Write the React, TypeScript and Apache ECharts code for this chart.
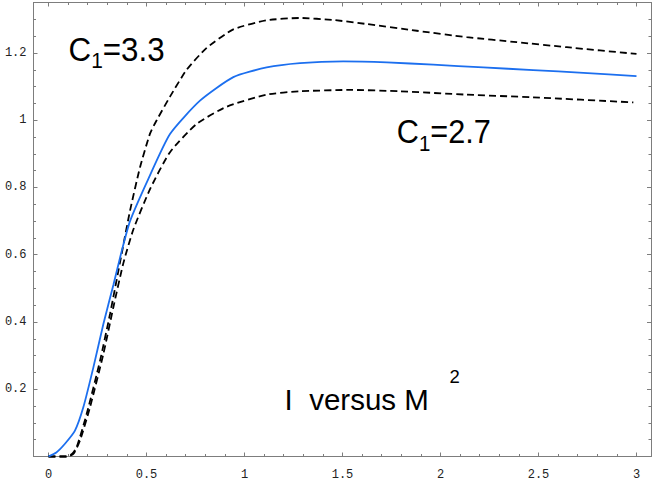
import React, { useEffect, useRef } from "react";
import * as echarts from "echarts";

// ---- data ----
const xTickLabels = ["0", "0.5", "1", "1.5", "2", "2.5", "3"];
const yTickLabels = ["0.2", "0.4", "0.6", "0.8", "1", "1.2"];

// I versus M^2 (solid blue)
const midX = [0, 0.04, 0.084, 0.135, 0.178, 0.229, 0.28, 0.331, 0.373, 0.416, 0.509, 0.62, 0.773, 0.943, 1.113, 1.283, 1.504, 1.726, 1.963, 2.218, 2.473, 2.729, 3.0];
const midY = [0, 0.012, 0.038, 0.077, 0.147, 0.265, 0.394, 0.51, 0.61, 0.7, 0.825, 0.959, 1.058, 1.128, 1.157, 1.17, 1.175, 1.172, 1.165, 1.157, 1.149, 1.141, 1.131];

// C1 = 3.3 (upper dashed)
const upX = [0, 0.09, 0.12, 0.144, 0.195, 0.263, 0.314, 0.373, 0.416, 0.467, 0.518, 0.552, 0.62, 0.705, 0.807, 0.943, 1.113, 1.283, 1.453, 1.623, 1.879, 2.134, 2.389, 2.644, 3.0];
const upY = [0, 0, 0.008, 0.028, 0.127, 0.285, 0.424, 0.602, 0.731, 0.86, 0.96, 1.0, 1.07, 1.15, 1.215, 1.27, 1.297, 1.304, 1.298, 1.286, 1.266, 1.247, 1.232, 1.217, 1.197];

// C1 = 2.7 (lower dashed)
const lowX = [0, 0.1, 0.13, 0.161, 0.212, 0.28, 0.331, 0.382, 0.433, 0.518, 0.62, 0.756, 0.909, 1.113, 1.283, 1.538, 1.793, 2.134, 2.473, 2.984];
const lowY = [0, 0, 0.01, 0.048, 0.147, 0.305, 0.444, 0.575, 0.675, 0.795, 0.905, 0.989, 1.04, 1.076, 1.086, 1.09, 1.086, 1.076, 1.068, 1.053];

const xMin = -0.0765;
const xMax = 3.074;
const yMin = 0;
const yMax = 1.35;

const pairs = (xs: number[], ys: number[]) => xs.map((x, i) => [x, ys[i]]);
const pick = (list: string[]) => (v: number) => {
  const s = list.find((l) => Math.abs(parseFloat(l) - v) < 1e-6);
  return s ?? "";
};

const FRAME = "#7d7d7d";
const TICK = "#7d7d7d";
const SANS = "Liberation Sans, Arial, Helvetica, sans-serif";

const axisBase = (extra: any) => ({
  type: "value",
  axisLine: { show: true, onZero: false, lineStyle: { color: FRAME, width: 1 } },
  splitLine: { show: false },
  axisTick: { show: true, inside: true, length: 4, lineStyle: { color: TICK, width: 1 } },
  ...extra,
});

export default function App() {
  const ref = useRef<HTMLDivElement>(null);
  useEffect(() => {
    if (!ref.current) return;
    const chart = echarts.init(ref.current, null, { renderer: "svg" });
    const labelFont = {
      fontFamily: "Liberation Mono, DejaVu Sans Mono, monospace",
      fontSize: 12,
      color: "#222",
    };
    const subRich = {
      c: { fontFamily: SANS, fontSize: 33, lineHeight: 36, verticalAlign: "top", fill: "#000" },
      s: { fontFamily: SANS, fontSize: 22, lineHeight: 55.6, fill: "#000" },
    };
    const lineSeries = (name: string, xs: number[], ys: number[], style: any, z: number) => ({
      name,
      type: "line",
      data: pairs(xs, ys),
      showSymbol: false,
      smooth: 0.2,
      clip: false,
      lineStyle: style,
      z,
    });
    const xMinor = { show: true, splitNumber: 5, length: 2.5, lineStyle: { color: TICK, width: 1 } };
    const yMinor = { show: true, splitNumber: 4, length: 2.5, lineStyle: { color: TICK, width: 1 } };
    const option: any = {
      animation: false,
      backgroundColor: "#fff",
      grid: { left: 33.5, right: 3, top: 2.5, bottom: 26.5, containLabel: false },
      xAxis: [
        axisBase({
          position: "bottom",
          min: xMin,
          max: xMax,
          splitNumber: 6,
          minorTick: xMinor,
          axisLabel: { ...labelFont, margin: 12, formatter: pick(xTickLabels), showMinLabel: true, showMaxLabel: true },
        }),
        axisBase({
          position: "top",
          min: xMin,
          max: xMax,
          splitNumber: 6,
          minorTick: xMinor,
          axisLabel: { show: false },
        }),
      ],
      yAxis: [
        axisBase({
          position: "left",
          min: yMin,
          max: yMax,
          interval: 0.2,
          minorTick: yMinor,
          axisLabel: { ...labelFont, margin: 7, formatter: pick(yTickLabels) },
        }),
        axisBase({
          position: "right",
          min: yMin,
          max: yMax,
          interval: 0.2,
          minorTick: yMinor,
          axisLabel: { show: false },
        }),
      ],
      series: [
        lineSeries("I versus M^2", midX, midY, { color: "#1c6fef", width: 1.8 }, 3),
        lineSeries("C1=3.3", upX, upY, { color: "#000", width: 1.8, type: [7, 4] }, 2),
        lineSeries("C1=2.7", lowX, lowY, { color: "#000", width: 1.8, type: [7, 4] }, 2),
      ],
      graphic: [
        {
          type: "text",
          x: 68.5,
          y: 33.3,
          scaleX: 0.95,
          style: {
            text: "{c|C}{s|1}{c|=3.3}",
            fill: "#000",
            align: "left",
            verticalAlign: "top",
            textAlign: "left",
            textVerticalAlign: "top",
            rich: subRich,
          },
          z: 10,
        },
        {
          type: "text",
          x: 396.8,
          y: 115.6,
          scaleX: 0.93,
          style: {
            text: "{c|C}{s|1}{c|=2.7}",
            fill: "#000",
            align: "left",
            verticalAlign: "top",
            textAlign: "left",
            textVerticalAlign: "top",
            rich: subRich,
          },
          z: 10,
        },
        {
          type: "text",
          x: 284.6,
          y: 339.3,
          style: {
            text: "{m|I  versus M}{p|    2}",
            fill: "#000",
            align: "left",
            verticalAlign: "top",
            textAlign: "left",
            textVerticalAlign: "top",
            rich: {
              m: { fontFamily: SANS, fontSize: 29.5, lineHeight: 36, verticalAlign: "bottom", fill: "#000" },
              p: { fontFamily: SANS, fontSize: 18.5, lineHeight: 75.2, fill: "#000" },
            },
          },
          z: 10,
        },
      ],
    };
    chart.setOption(option);
    return () => chart.dispose();
  }, []);
  return (
    <div
      ref={ref}
      style={{ position: "absolute", left: 0, top: 0, width: 654, height: 483, background: "#fff" }}
    />
  );
}
